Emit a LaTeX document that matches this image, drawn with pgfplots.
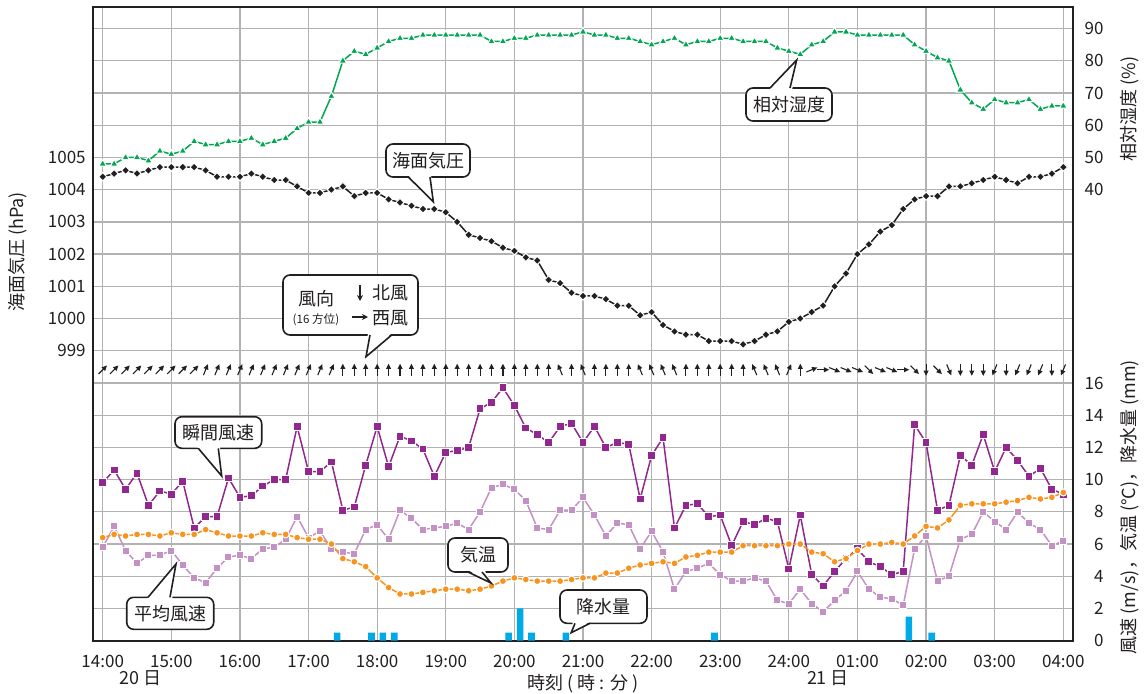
\documentclass[border=0pt]{standalone}
\usepackage{fontspec}
\setmainfont{Noto Sans CJK JP}
\usepackage{pgfplots}
\pgfplotsset{compat=1.18}
\usepackage{pgfplotstable}
\usetikzlibrary{arrows.meta}
\definecolor{cgreen}{RGB}{0,166,81}
\definecolor{cblack}{RGB}{35,31,32}
\definecolor{cpurple}{RGB}{146,39,143}
\definecolor{clpurple}{RGB}{196,145,196}
\definecolor{corange}{RGB}{247,147,30}
\definecolor{ccyan}{RGB}{0,169,232}
\definecolor{cgrid}{RGB}{178,178,178}

\pgfdeclareplotmark{warrow}{%
  \pgfsetlinewidth{0.55pt}%
  \pgfpathmoveto{\pgfqpoint{-2.9pt}{0pt}}%
  \pgfpathlineto{\pgfqpoint{1pt}{0pt}}%
  \pgfusepathqstroke
  \pgfpathmoveto{\pgfqpoint{3pt}{0pt}}%
  \pgfpathlineto{\pgfqpoint{0.4pt}{1.3pt}}%
  \pgfpathlineto{\pgfqpoint{0.4pt}{-1.3pt}}%
  \pgfpathclose
  \pgfusepathqfill
}

% i: 10-min step from 14:00; p: hPa; h: %; g: gust m/s; w: mean wind m/s; t: degC; d: arrow direction (deg)
\pgfplotstableread{
i p h g w t d
0 1004.4 48 9.8 5.8 6.4 45
1 1004.5 48 10.6 7.1 6.6 45
2 1004.6 50 9.4 5.6 6.5 45
3 1004.5 50 10.4 4.8 6.6 45
4 1004.6 49 8.4 5.3 6.6 45
5 1004.7 52 9.3 5.3 6.5 45
6 1004.7 51 9.1 5.6 6.7 45
7 1004.7 52 9.9 4.7 6.6 45
8 1004.7 55 7.0 3.9 6.6 45
9 1004.6 54 7.7 3.6 6.9 67.5
10 1004.4 54 7.7 4.5 6.7 67.5
11 1004.4 55 10.1 5.2 6.5 67.5
12 1004.4 55 8.9 5.3 6.5 67.5
13 1004.5 56 9.0 5.1 6.5 67.5
14 1004.4 54 9.6 5.7 6.7 67.5
15 1004.3 55 10.0 5.8 6.6 67.5
16 1004.3 56 10.0 6.3 6.6 67.5
17 1004.1 59 13.3 7.7 6.4 67.5
18 1003.9 61 10.5 6.4 6.3 67.5
19 1003.9 61 10.5 6.8 6.3 67.5
20 1004.0 69 11.1 5.7 6.0 67.5
21 1004.1 80 8.1 5.5 5.1 90
22 1003.8 83 8.3 5.4 4.9 90
23 1003.9 82 10.9 6.9 4.6 90
24 1003.9 84 13.3 7.2 3.9 90
25 1003.7 86 10.8 6.3 3.3 90
26 1003.6 87 12.7 8.1 2.9 90
27 1003.5 87 12.4 7.6 2.9 90
28 1003.4 88 11.9 6.9 3.0 90
29 1003.4 88 10.2 7.0 3.1 90
30 1003.3 88 11.7 7.1 3.2 90
31 1003.0 88 11.8 7.3 3.2 90
32 1002.6 88 12.0 6.9 3.1 90
33 1002.5 88 14.4 8.0 3.2 90
34 1002.4 86 14.8 9.5 3.4 90
35 1002.2 86 15.7 9.7 3.7 90
36 1002.1 87 14.6 9.4 3.9 90
37 1001.9 87 13.2 8.7 3.8 90
38 1001.8 88 12.8 7.0 3.7 90
39 1001.2 88 12.3 6.9 3.7 90
40 1001.1 88 13.3 8.1 3.7 112.5
41 1000.8 88 13.5 8.1 3.8 90
42 1000.7 89 12.3 8.9 3.9 112.5
43 1000.7 88 13.3 7.8 3.9 90
44 1000.6 88 12.0 6.5 4.2 90
45 1000.4 87 12.3 7.3 4.2 90
46 1000.4 87 12.2 7.2 4.5 90
47 1000.1 86 8.8 5.7 4.7 112.5
48 1000.2 85 11.5 6.8 4.8 112.5
49 999.8 86 12.6 5.5 4.9 112.5
50 999.6 87 7.0 3.2 4.8 112.5
51 999.5 85 8.4 4.3 5.2 90
52 999.5 86 8.5 4.5 5.3 90
53 999.3 86 7.7 4.8 5.5 90
54 999.3 87 7.8 4.1 5.5 90
55 999.3 87 5.9 3.7 5.5 90
56 999.2 86 7.4 3.7 5.9 90
57 999.3 86 7.2 3.9 5.9 112.5
58 999.5 86 7.6 3.7 5.9 112.5
59 999.6 84 7.4 2.5 5.9 112.5
60 999.9 83 4.45 2.3 6.0 67.5
61 1000.0 82 7.8 3.2 6.0 90
62 1000.2 85 4.1 2.3 5.5 22.5
63 1000.4 86 3.4 1.8 5.4 0
64 1001.0 89 4.3 2.5 4.9 -22.5
65 1001.4 89 5.1 3.1 5.1 -22.5
66 1002.0 88 5.7 4.3 5.6 -22.5
67 1002.3 88 4.9 3.2 6.0 -45
68 1002.7 88 4.6 2.7 6.0 -22.5
69 1002.9 88 4.1 2.6 6.1 -22.5
70 1003.4 88 4.3 2.2 6.0 0
71 1003.7 85 13.4 5.7 6.5 -45
72 1003.8 83 12.3 6.5 7.1 -90
73 1003.8 81 8.1 3.7 7.0 -45
74 1004.1 80 8.4 4.0 7.5 -67.5
75 1004.1 71 11.5 6.3 8.4 -90
76 1004.2 67 10.9 6.6 8.5 -90
77 1004.3 65 12.8 8.0 8.5 -90
78 1004.4 68 10.5 7.4 8.5 -112.5
79 1004.3 67 12.0 6.9 8.6 -90
80 1004.2 67 11.2 8.0 8.7 -112.5
81 1004.4 68 10.2 7.3 8.9 -112.5
82 1004.4 65 10.7 6.9 8.8 -112.5
83 1004.5 66 9.4 5.9 8.9 -90
84 1004.7 66 9.1 6.2 9.2 -112.5
}\data

\pgfplotstableread{
c r
20.5 0.5
23.5 0.5
24.5 0.5
25.5 0.5
35.5 0.5
36.5 2.0
37.5 0.5
40.5 0.5
53.5 0.5
70.5 1.5
72.5 0.5
}\rain

\tikzset{cb/.style={draw=cblack, line width=0.8pt, fill=white, rounded corners=3.5pt},
  cp/.style={draw=cblack, line width=0.8pt, line join=miter},
  ct/.style={font=\fontsize{9}{10}\selectfont, text=cblack}}

\begin{document}
\begin{tikzpicture}
\path[use as bounding box] (-46.35pt,-26.15pt) rectangle (526.65pt,320.35pt);
\begin{axis}[
  at={(0pt,0pt)}, anchor=south west, scale only axis,
  width=490.3pt, height=316.85pt,
  xmin=-0.875, xmax=84.875, ymin=0, ymax=19.67,
  xtick={0,6,...,84},
  xticklabels={14:00,15:00,16:00,17:00,18:00,19:00,20:00,21:00,22:00,23:00,24:00,01:00,02:00,03:00,04:00},
  ytick={0,1,...,19},
  yticklabels={,,,,,,,,,999,1000,1001,1002,1003,1004,1005,,,,},
  grid=major,
  grid style={cgrid, line width=0.65pt},
  major tick length=0pt,
  axis line style={cblack, line width=1pt},
  tick label style={font=\fontsize{8.5}{10}\selectfont, text=cblack},
  xticklabel style={yshift=-3.7pt},
  /pgf/number format/assume math mode=true,
]
\addplot[ybar, bar width=0.58, bar shift=0pt, fill=ccyan, draw=none]
  table[x=c, y expr=\thisrow{r}/2] {\rain};
\addplot[clpurple, line width=0.75pt, mark=square*, mark size=1.75pt,
  mark options={fill=clpurple, draw=white, line width=0.5pt}]
  table[x=i, y expr=\thisrow{w}/2] {\data};
\addplot[cpurple, line width=0.75pt, mark=square*, mark size=1.95pt,
  mark options={fill=cpurple, draw=white, line width=0.5pt}]
  table[x=i, y expr=\thisrow{g}/2] {\data};
\addplot[corange, line width=0.75pt, mark=*, mark size=1.75pt,
  mark options={fill=corange, draw=white, line width=0.5pt}]
  table[x=i, y expr=\thisrow{t}/2] {\data};
\addplot[cblack, line width=0.75pt, mark=square*, mark size=1.45pt,
  mark options={rotate=45, fill=cblack, draw=white, line width=0.5pt}]
  table[x=i, y expr=\thisrow{p}-990] {\data};
\addplot[cgreen, line width=0.75pt, mark=triangle*, mark size=2.2pt,
  mark options={fill=cgreen, draw=white, line width=0.5pt}]
  table[x=i, y expr=\thisrow{h}/10+10] {\data};
\addplot[scatter, only marks, mark=warrow,
  scatter/use mapped color={draw=cblack, fill=cblack},
  visualization depends on={\thisrow{d} \as \wdir},
  scatter/@pre marker code/.append style={/tikz/rotate=\wdir}]
  table[x=i, y expr=8.41] {\data};
\end{axis}
\begin{axis}[
  at={(0pt,0pt)}, anchor=south west, scale only axis,
  width=490.3pt, height=316.85pt,
  xmin=-0.875, xmax=84.875, ymin=0, ymax=19.67,
  axis x line=none, axis y line*=right,
  ytick={0,1,2,3,4,5,6,7,8,14,15,16,17,18,19},
  yticklabels={0,2,4,6,8,10,12,14,16,40,50,60,70,80,90},
  major tick length=0pt,
  axis line style={cblack, line width=1pt},
  tick label style={font=\fontsize{8.5}{10}\selectfont, text=cblack},
  yticklabel style={anchor=east, xshift=18.6pt},
]
\addplot[draw=none] coordinates {(0,0)};
\end{axis}

\begin{scope}[x=0.5pt, y=-0.5pt, shift={(-46.35pt,320.35pt)}]
% axis titles
\node[ct, rotate=90] at (18,252) {海面気圧 (hPa)};
\node[ct, rotate=90] at (1130,109) {相対湿度 (\%)};
\node[ct, rotate=90, anchor=east] at (1130,353) {風速 (m/s)，気温 (°C)，降水量 (mm)};
\node[ct] at (141,678) {20 日};
\node[ct] at (828,678) {21 日};
\node[ct] at (583,684) {時刻 ( 時 : 分 )};
% 海面気圧
\draw[cb] (386,144) rectangle (470,177);
\fill[white] (407,174) -- (431,174) -- (433.3,201.7) -- cycle;
\draw[cp] (408.3,177) -- (433.3,201.7) -- (430,177);
\node[ct] at (428,160.5) {海面気圧};
% 相対湿度
\draw[cb] (746,88) rectangle (832,121);
\fill[white] (768,91) -- (792,91) -- (796.7,60) -- cycle;
\draw[cp] (770,88) -- (796.7,60) -- (790,88);
\node[ct] at (789,104.5) {相対湿度};
% 風向
\draw[cb] (283,275) rectangle (418,335);
\fill[white] (368,332) -- (393,332) -- (366,356.7) -- cycle;
\draw[cp] (370,335) -- (366,356.7) -- (391.7,335);
\node[ct] at (316.7,299) {風向};
\node[font=\fontsize{5.8}{7}\selectfont, text=cblack] at (316,320) {(16 方位)};
\draw[cblack, line width=0.6pt, -{Stealth[length=3pt,width=3pt]}] (360,285) -- (360,301);
\draw[cblack, line width=0.6pt, -{Stealth[length=3pt,width=3pt]}] (352,317) -- (368,317);
\node[ct] at (390,292.7) {北風};
\node[ct] at (390,318.3) {西風};
% 瞬間風速
\draw[cb] (175,416.7) rectangle (261.7,448.3);
\fill[white] (196,445.5) -- (220,445.5) -- (221.7,476) -- cycle;
\draw[cp] (198.3,448.3) -- (221.7,476) -- (218.3,448.3);
\node[ct] at (218.3,432.5) {瞬間風速};
% 平均風速
\draw[cb] (126.7,597.3) rectangle (213.7,629.3);
\fill[white] (146,600) -- (172,600) -- (176,564) -- cycle;
\draw[cp] (148,597.3) -- (176,564) -- (170,597.3);
\node[ct] at (170.2,613.3) {平均風速};
% 気温
\draw[cb] (448,538) rectangle (508,572);
\fill[white] (466,569) -- (484,569) -- (491,583) -- cycle;
\draw[cp] (468,572) -- (491,583) -- (482,572);
\node[ct] at (478,555) {気温};
% 降水量
\draw[cb] (560,590) rectangle (647,623.3);
\fill[white] (573,620.5) -- (592,620.5) -- (571.2,632.7) -- cycle;
\draw[cp] (575,623.3) -- (571.2,632.7) -- (590,623.3);
\node[ct] at (603.5,606.7) {降水量};
\end{scope}
\end{tikzpicture}
\end{document}
